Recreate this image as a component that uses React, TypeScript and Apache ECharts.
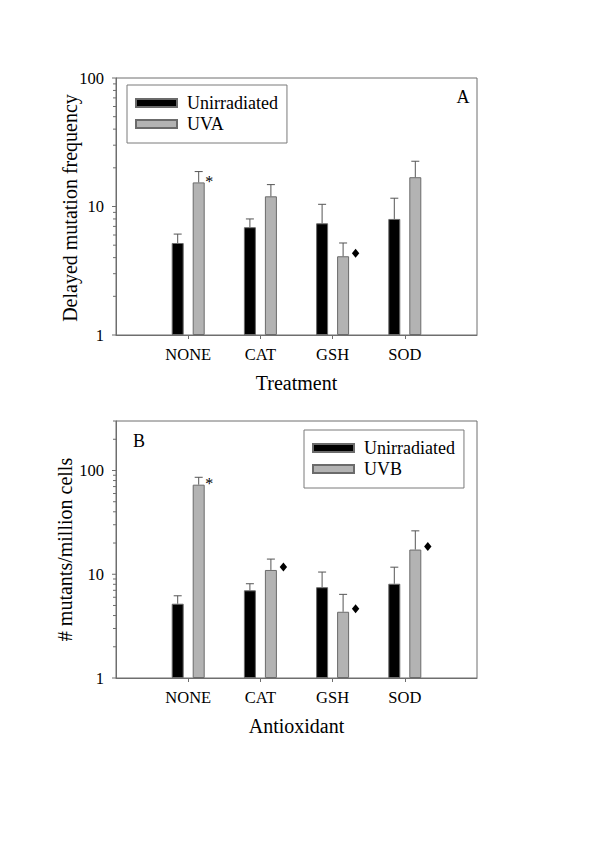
import React, { useEffect, useRef } from 'react';
import * as echarts from 'echarts';

const categories = ['NONE', 'CAT', 'GSH', 'SOD'];
const namesA = ['Unirradiated', 'UVA'];
const namesB = ['Unirradiated', 'UVB'];
const xTitleA = 'Treatment';
const xTitleB = 'Antioxidant';
const yTitleA = 'Delayed mutation frequency';
const yTitleB = '# mutants/million cells';

// Panel A
const unirrA = [5.2, 6.9, 7.4, 8.0];
const unirrErrA = [6.1, 8.0, 10.4, 11.6];
const uvaA = [15.4, 12.0, 4.1, 16.9];
const uvaErrA = [18.7, 14.8, 5.2, 22.5];
const marksA = ['star', '', 'diamond', ''];

// Panel B
const unirrB = [5.2, 7.0, 7.5, 8.1];
const unirrErrB = [6.2, 8.1, 10.5, 11.7];
const uvbB = [73, 11.0, 4.35, 17.3];
const uvbErrB = [86, 14.0, 6.4, 26.2];
const marksB = ['star', 'diamond', 'diamond', 'diamond'];

const majorTicks = [1, 10, 100];
const minorTicksA = [2, 3, 4, 5, 6, 7, 8, 9, 20, 30, 40, 50, 60, 70, 80, 90];
const minorTicksB = [2, 3, 4, 5, 6, 7, 8, 9, 20, 30, 40, 50, 60, 70, 80, 90, 200, 300];

const FONT = 'Liberation Serif';
const AXIS = '#6e6e6e';
const BAR_W = 12;
const OFF = 10.5;

const pad = (arr: number[]) => ['-', ...arr, '-'];

function App() {
  const ref = useRef<HTMLDivElement>(null);
  useEffect(() => {
    if (!ref.current) return;
    const chart = echarts.init(ref.current, null, { renderer: 'svg' });

    const errSeries = (name: string, idx: number, vals: number[], errs: number[], offset: number) => ({
      type: 'custom',
      name,
      xAxisIndex: idx,
      yAxisIndex: idx,
      silent: true,
      clip: false,
      z: 3,
      data: categories.map((_, i) => [i + 1, vals[i], errs[i]]),
      renderItem: (params: any, api: any) => {
        const b = api.coord([api.value(0), api.value(1)]);
        const t = api.coord([api.value(0), api.value(2)]);
        const x = b[0] + offset;
        return {
          type: 'group',
          children: [
            { type: 'line', shape: { x1: x, y1: b[1], x2: x, y2: t[1] }, style: { stroke: '#555', lineWidth: 1 } },
            { type: 'line', shape: { x1: x - 4, y1: t[1], x2: x + 4, y2: t[1] }, style: { stroke: '#555', lineWidth: 1 } },
          ],
        };
      },
    });

    const markSeries = (idx: number, vals: number[], marks: string[]) => ({
      type: 'custom',
      name: 'marks' + idx,
      xAxisIndex: idx,
      yAxisIndex: idx,
      silent: true,
      clip: false,
      z: 4,
      data: categories
        .map((_, i) => (marks[i] ? [i + 1, vals[i], marks[i] === 'star' ? 0 : 1] : null))
        .filter((d) => d !== null),
      renderItem: (params: any, api: any) => {
        const p = api.coord([api.value(0), api.value(1)]);
        const right = p[0] + OFF + BAR_W / 2 + 0.5;
        if (api.value(2) === 0) {
          return {
            type: 'text',
            x: right + 4,
            y: p[1] - 1,
            style: { text: '*', fontFamily: FONT, fontSize: 16, fill: '#000', align: 'center', verticalAlign: 'middle' },
          };
        }
        const cx = right + 6;
        const cy = p[1] - 3;
        return {
          type: 'polygon',
          shape: { points: [[cx, cy - 4.5], [cx + 3.7, cy], [cx, cy + 4.5], [cx - 3.7, cy]] },
          style: { fill: '#000' },
        };
      },
    });

    const tickSeries = (idx: number, minors: number[]) => ({
      type: 'custom',
      name: 'ticks' + idx,
      xAxisIndex: idx,
      yAxisIndex: idx,
      silent: true,
      clip: false,
      z: 4,
      data: [...majorTicks.map((v) => [0, v, 4]), ...minors.map((v) => [0, v, 3])],
      renderItem: (params: any, api: any) => {
        const p = api.coord([0, api.value(1)]);
        const len = api.value(2);
        return {
          type: 'line',
          shape: { x1: p[0] - len, y1: p[1], x2: p[0], y2: p[1] },
          style: { stroke: AXIS, lineWidth: 1 },
        };
      },
    });

    const barSeries = (name: string, idx: number, vals: number[], color: string) => ({
      type: 'bar',
      name,
      xAxisIndex: idx,
      yAxisIndex: idx,
      barWidth: BAR_W,
      barGap: '75%',
      data: pad(vals),
      itemStyle: { color, borderColor: '#6b6b6b', borderWidth: 1 },
    });

    const xAxis = (idx: number) => ({
      type: 'category',
      gridIndex: idx,
      data: ['', ...categories, ''],
      boundaryGap: false,
      axisLine: { show: true, lineStyle: { color: AXIS, width: 1 } },
      axisTick: { show: true, length: 4, interval: (i: number) => i > 0 && i < categories.length + 1, lineStyle: { color: AXIS } },
      axisLabel: { interval: 0, margin: 11, fontFamily: FONT, fontSize: 16.5, color: '#000' },
      splitLine: { show: false },
    });

    const yAxis = (idx: number, max: number) => ({
      type: 'log',
      gridIndex: idx,
      logBase: 10,
      min: 1,
      max,
      axisLine: { show: true, lineStyle: { color: AXIS, width: 1 } },
      axisTick: { show: false },
      minorTick: { show: false },
      splitLine: { show: false },
      axisLabel: {
        margin: 12,
        fontFamily: FONT,
        fontSize: 16.5,
        color: '#000',
        formatter: (v: number) => {
          const r = Math.round(v);
          return majorTicks.includes(r) ? String(r) : '';
        },
      },
    });

    const legend = (names: string[], left: number, top: number) => ({
      data: names,
      left,
      top,
      orient: 'vertical',
      padding: [8, 9, 9, 8],
      borderColor: '#7a7a7a',
      borderWidth: 1,
      itemWidth: 41,
      itemHeight: 8,
      itemGap: 1,
      icon: 'rect',
      selectedMode: false,
      textStyle: { fontFamily: FONT, fontSize: 18, lineHeight: 20, color: '#000', padding: [0, 0, 0, 5] },
    });

    const txt = (text: string, x: number, y: number, size: number, rot = 0) => ({
      type: 'text',
      x,
      y,
      rotation: rot,
      style: { text, fontFamily: FONT, fontSize: size, fill: '#000', align: 'center', verticalAlign: 'middle' },
    });

    chart.setOption({
      animation: false,
      backgroundColor: '#fff',
      grid: [
        { left: 116, top: 78, width: 361, height: 257, show: true, borderColor: AXIS, borderWidth: 1, backgroundColor: 'transparent' },
        { left: 116, top: 421, width: 361, height: 257, show: true, borderColor: AXIS, borderWidth: 1, backgroundColor: 'transparent' },
      ],
      xAxis: [xAxis(0), xAxis(1)],
      yAxis: [yAxis(0, 100), yAxis(1, 300)],
      legend: [legend(namesA, 127, 85), legend(namesB, 304, 430)],
      graphic: [
        txt('A', 463, 97, 18),
        txt('B', 139, 441, 18),
        txt(xTitleA, 296.5, 383, 20),
        txt(xTitleB, 296.5, 726, 20),
        txt(yTitleA, 70, 208, 20, Math.PI / 2),
        txt(yTitleB, 65, 549.5, 20, Math.PI / 2),
      ],
      series: [
        barSeries(namesA[0], 0, unirrA, '#000000'),
        barSeries(namesA[1], 0, uvaA, '#b3b3b3'),
        errSeries('errA0', 0, unirrA, unirrErrA, -OFF),
        errSeries('errA1', 0, uvaA, uvaErrA, OFF),
        markSeries(0, uvaA, marksA),
        tickSeries(0, minorTicksA),
        barSeries(namesB[0], 1, unirrB, '#000000'),
        barSeries(namesB[1], 1, uvbB, '#b3b3b3'),
        errSeries('errB0', 1, unirrB, unirrErrB, -OFF),
        errSeries('errB1', 1, uvbB, uvbErrB, OFF),
        markSeries(1, uvbB, marksB),
        tickSeries(1, minorTicksB),
      ],
    });
    return () => chart.dispose();
  }, []);
  return <div ref={ref} style={{ position: 'absolute', left: 0, top: 0, width: 600, height: 849 }} />;
}

export default App;
